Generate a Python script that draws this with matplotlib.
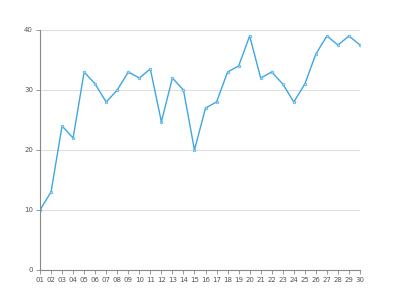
import matplotlib
matplotlib.use("Agg")
import matplotlib.pyplot as plt

days = ["01", "02", "03", "04", "05", "06", "07", "08", "09", "10",
        "11", "12", "13", "14", "15", "16", "17", "18", "19", "20",
        "21", "22", "23", "24", "25", "26", "27", "28", "29", "30"]
values = [10, 13, 24, 22, 33, 31, 28, 30, 33, 32,
          33.5, 24.7, 32, 30, 20, 27, 28, 33, 34, 39,
          32, 33, 31, 28, 31, 36, 39, 37.5, 39, 37.5]
y_ticks = [0, 10, 20, 30, 40]

line_color = "#3fa6e0"
axis_color = "#888888"
text_color = "#555555"

fig = plt.figure(figsize=(4, 3), dpi=100)
ax = fig.add_axes([0.1, 0.1, 0.8, 0.8])

x = list(range(len(days)))
ax.plot(x, values, color=line_color, linewidth=1.0,
        marker="o", markersize=2, markerfacecolor="#a8d8f5",
        markeredgecolor=line_color, markeredgewidth=0.4)

ax.set_xlim(0, len(days) - 1)
ax.set_ylim(0, 40)
ax.set_xticks(x)
ax.set_xticklabels(days)
ax.set_yticks(y_ticks)

ax.grid(axis="y", color="#e0e0e0", linewidth=0.8)
ax.set_axisbelow(True)

for side in ["top", "right"]:
    ax.spines[side].set_visible(False)
for side in ["left", "bottom"]:
    ax.spines[side].set_color(axis_color)
    ax.spines[side].set_linewidth(0.8)

ax.tick_params(axis="both", colors=axis_color, length=3, width=0.6,
               labelsize=5, labelcolor=text_color, pad=2)

fig.savefig("out.png", dpi=100)
